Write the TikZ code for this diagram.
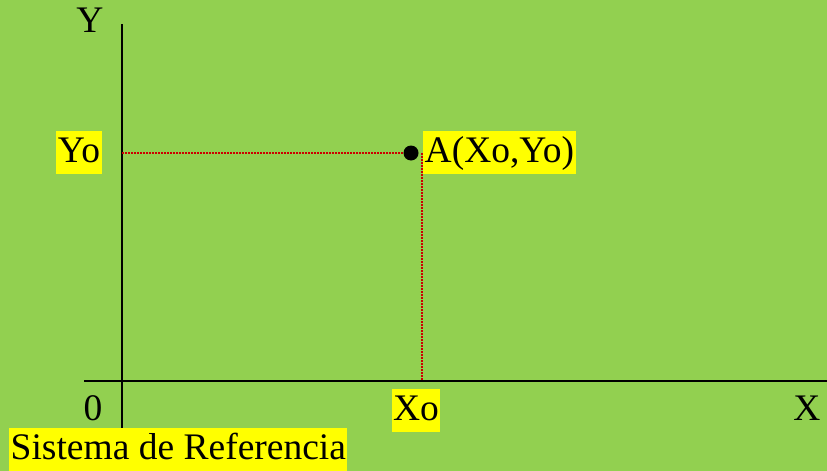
\documentclass[tikz,border=0pt]{standalone}
\usepackage{fontspec}
\setmainfont{Liberation Serif}
\definecolor{bg}{RGB}{146,208,80}
\definecolor{hl}{RGB}{255,255,0}
\definecolor{dotred}{RGB}{204,0,0}
\begin{document}
\begin{tikzpicture}[x=1pt,y=-1pt,
  lbl/.style={font=\fontsize{37.5}{41}\selectfont, inner xsep=1.5pt, inner ysep=1pt, text height=31pt, text depth=10pt},
  hlbl/.style={lbl, fill=hl},
  axis/.style={line width=2pt, black},
  guide/.style={dotred, line width=1.5pt, dash pattern=on 1.5pt off 1.5pt}]
\fill[bg] (0,0) rectangle (827,471);
\useasboundingbox (0,0) rectangle (827,471);
% axes
\coordinate (ytop) at (122,24);
\coordinate (ybot) at (122,432);
\coordinate (xl) at (84,381);
\coordinate (xr) at (827,381);
\draw[axis] (ytop) -- (ybot);
\draw[axis] (xl) -- (xr);
% point
\coordinate (A) at (411,153);
\coordinate (yproj) at (122,153);
\coordinate (vtop) at (422,153);
\coordinate (xproj) at (422,381);
\draw[guide] (yproj) -- (A);
\draw[guide] (vtop) -- (xproj);
\fill[black] (A) circle (7.5);
% labels
\node[lbl] (Y) at (90,22) {Y};
\node[hlbl] (Yo) at (79,152) {Yo};
\node[hlbl, anchor=west] (Alab) at (423,152) {A(Xo,Yo)};
\node[lbl] (O) at (93,410) {0};
\node[hlbl] (Xo) at (416,410) {Xo};
\node[lbl] (X) at (807,410) {X};
\node[hlbl, anchor=south west] (S) at (9,471) {Sistema de Referencia};
\end{tikzpicture}
\end{document}
